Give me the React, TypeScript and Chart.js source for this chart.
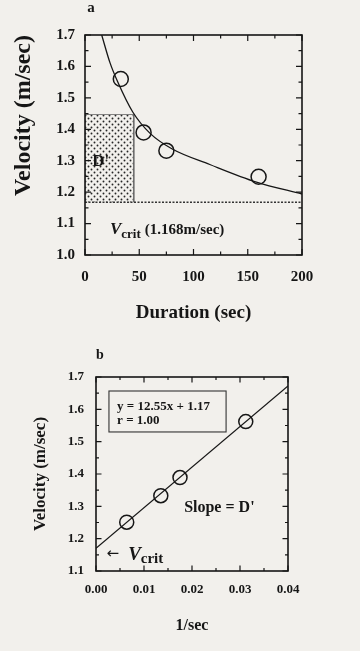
import { useEffect, useRef } from 'react';
import { Chart, registerables } from 'chart.js';

Chart.register(...registerables);

// ---------- Panel a : velocity vs duration ----------
const durationSec = [33, 54, 75, 160];
const velocityA = [1.56, 1.39, 1.332, 1.249];
const fitCurveDuration = [15.4, 23, 30, 44, 60, 80, 115, 158, 200];
const fitCurveVelocity = [1.7, 1.612, 1.552, 1.455, 1.387, 1.338, 1.288, 1.232, 1.194];
const criticalLineSec = [0, 200];
const criticalLineVel = [1.168, 1.168];
const dPrimeRectSec = [0, 0, 45, 45];
const dPrimeRectVel = [1.168, 1.447, 1.447, 1.168];
const durationTicks = [0, 50, 100, 150, 200];
const velocityTicksA = [1.0, 1.1, 1.2, 1.3, 1.4, 1.5, 1.6, 1.7];

// ---------- Panel b : velocity vs 1/duration ----------
const inverseDuration = [0.0064, 0.0135, 0.0175, 0.0312];
const velocityB = [1.251, 1.333, 1.389, 1.562];
const regressionLineX = [0, 0.04];
const regressionLineY = [1.17, 1.672];
const inverseTicks = [0, 0.01, 0.02, 0.03, 0.04];
const velocityTicksB = [1.1, 1.2, 1.3, 1.4, 1.5, 1.6, 1.7];

const SERIF = '"Liberation Serif", "Times New Roman", serif';
const INK = '#161616';
const PAPER = '#f2f0ec';

const pts = (xs: number[], ys: number[]) => xs.map((x, i) => ({ x, y: ys[i] }));

const frameTicksPlugin = {
  id: 'frameTicks',
  afterDatasetsDraw(chart: any, _args: any, opts: any) {
    const { ctx, chartArea } = chart;
    const { left, right, top, bottom } = chartArea;
    ctx.save();
    ctx.strokeStyle = INK;
    ctx.lineWidth = 1.2;
    const drawSet = (scale: any, ticks: number[], horizontal: boolean) => {
      const major = ticks[1] - ticks[0];
      const minor = major / 2;
      const n = Math.round((scale.max - scale.min) / minor);
      for (let i = 0; i <= n; i++) {
        const v = scale.min + i * minor;
        const q = (v - ticks[0]) / major;
        const isMajor = Math.abs(q - Math.round(q)) < 1e-6;
        const len = isMajor ? opts.majorLen : opts.minorLen;
        const p = scale.getPixelForValue(v);
        ctx.beginPath();
        if (horizontal) {
          ctx.moveTo(p, bottom);
          ctx.lineTo(p, bottom - len);
          ctx.moveTo(p, top);
          ctx.lineTo(p, top + len);
        } else {
          ctx.moveTo(left, p);
          ctx.lineTo(left + len, p);
          ctx.moveTo(right, p);
          ctx.lineTo(right - len, p);
        }
        ctx.stroke();
      }
    };
    drawSet(chart.scales.x, opts.xTicks, true);
    drawSet(chart.scales.y, opts.yTicks, false);
    ctx.lineWidth = opts.frameWidth;
    ctx.strokeRect(left, top, right - left, bottom - top);
    ctx.restore();
  },
};

const textMarksPlugin = {
  id: 'textMarks',
  afterDraw(chart: any, _args: any, opts: any) {
    const { ctx, chartArea } = chart;
    const xs = chart.scales.x;
    const ys = chart.scales.y;
    ctx.save();
    ctx.fillStyle = INK;
    ctx.strokeStyle = '#333';
    if (opts.panel) {
      ctx.font = `bold ${opts.panel.size}px ${SERIF}`;
      ctx.textAlign = 'center';
      ctx.textBaseline = 'middle';
      ctx.fillText(opts.panel.text, chartArea.left + opts.panel.dx, opts.panel.y);
    }
    for (const b of opts.boxes || []) {
      const x0 = xs.getPixelForValue(b.x0);
      const x1 = xs.getPixelForValue(b.x1);
      const y0 = ys.getPixelForValue(b.y0);
      const y1 = ys.getPixelForValue(b.y1);
      ctx.lineWidth = 1.1;
      ctx.strokeRect(x0, y0, x1 - x0, y1 - y0);
    }
    for (const item of opts.items || []) {
      const px = xs.getPixelForValue(item.x);
      const py = ys.getPixelForValue(item.y);
      ctx.textBaseline = item.baseline || 'alphabetic';
      ctx.textAlign = 'left';
      let total = 0;
      for (const r of item.runs) {
        ctx.font = r.font;
        total += (r.gap || 0) + ctx.measureText(r.text).width;
      }
      let cx = item.align === 'center' ? px - total / 2 : px;
      for (const r of item.runs) {
        cx += r.gap || 0;
        ctx.font = r.font;
        ctx.fillText(r.text, cx, py + (r.dy || 0));
        cx += ctx.measureText(r.text).width;
      }
    }
    ctx.restore();
  },
};

function makeDotPattern(): CanvasPattern | string {
  const tile = document.createElement('canvas');
  tile.width = 6;
  tile.height = 6;
  const t = tile.getContext('2d');
  if (!t) return '#999';
  t.fillStyle = '#262626';
  t.beginPath();
  t.arc(1.5, 1.5, 0.95, 0, Math.PI * 2);
  t.arc(4.5, 4.5, 0.95, 0, Math.PI * 2);
  t.fill();
  const p = t.createPattern(tile, 'repeat');
  return p || '#999';
}

const tickFont = (size: number) => ({ family: SERIF, size, weight: 'bold' as const });

function configA(pattern: CanvasPattern | string): any {
  return {
    type: 'line',
    data: {
      datasets: [
        {
          label: 'points',
          data: pts(durationSec, velocityA),
          showLine: false,
          pointRadius: 7.5,
          pointBorderWidth: 1.5,
          pointBorderColor: INK,
          pointBackgroundColor: 'rgba(0,0,0,0)',
        },
        {
          label: 'fit',
          data: pts(fitCurveDuration, fitCurveVelocity),
          borderColor: INK,
          borderWidth: 1.3,
          pointRadius: 0,
          cubicInterpolationMode: 'monotone',
          fill: false,
        },
        {
          label: 'vcrit',
          data: pts(criticalLineSec, criticalLineVel),
          borderColor: '#333',
          borderWidth: 1.5,
          borderDash: [2, 1.5],
          pointRadius: 0,
          fill: false,
        },
        {
          label: 'dprime',
          data: pts(dPrimeRectSec, dPrimeRectVel),
          borderColor: '#666',
          borderWidth: 0.8,
          pointRadius: 0,
          backgroundColor: pattern,
          fill: { value: 1.168 },
        },
      ],
    },
    options: {
      responsive: false,
      maintainAspectRatio: false,
      animation: false,
      events: [],
      layout: { padding: { left: 0, right: 58, top: 35, bottom: 0 } },
      plugins: {
        legend: { display: false },
        tooltip: { enabled: false },
        frameTicks: { xTicks: durationTicks, yTicks: velocityTicksA, majorLen: 6, minorLen: 3.5, frameWidth: 1.6 },
        textMarks: {
          panel: { text: 'a', dx: 6, y: 8, size: 15 },
          items: [
            { x: 14.5, y: 1.296, align: 'center', baseline: 'middle', runs: [{ text: "D'", font: `bold 17px ${SERIF}` }] },
            {
              x: 23,
              y: 1.067,
              align: 'left',
              runs: [
                { text: 'V', font: `italic bold 17px ${SERIF}` },
                { text: 'crit', font: `bold 13px ${SERIF}`, dy: 4 },
                { text: '(1.168m/sec)', font: `bold 15px ${SERIF}`, gap: 4 },
              ],
            },
          ],
        },
      },
      scales: {
        x: {
          type: 'linear',
          min: durationTicks[0],
          max: durationTicks[durationTicks.length - 1],
          afterBuildTicks: (s: any) => {
            s.ticks = durationTicks.map((value) => ({ value }));
          },
          afterFit: (s: any) => {
            s.height = 75;
          },
          grid: { display: false, drawTicks: false },
          border: { display: false },
          ticks: { padding: 13, font: tickFont(15), color: INK, autoSkip: false, maxRotation: 0 },
          title: {
            display: true,
            text: 'Duration (sec)',
            color: INK,
            font: { family: SERIF, size: 19, weight: 'bold' },
            padding: { top: 0, bottom: 6 },
          },
        },
        y: {
          type: 'linear',
          min: velocityTicksA[0],
          max: velocityTicksA[velocityTicksA.length - 1],
          afterBuildTicks: (s: any) => {
            s.ticks = velocityTicksA.map((value) => ({ value }));
          },
          afterFit: (s: any) => {
            s.width = 85;
          },
          grid: { display: false, drawTicks: false },
          border: { display: false },
          ticks: {
            padding: 10,
            font: tickFont(15),
            color: INK,
            autoSkip: false,
            callback: (v: any) => Number(v).toFixed(1),
          },
          title: {
            display: true,
            text: 'Velocity (m/sec)',
            align: 'end',
            color: INK,
            font: { family: SERIF, size: 24, weight: 'bold' },
            padding: { top: 9, bottom: 0 },
          },
        },
      },
    },
    plugins: [frameTicksPlugin, textMarksPlugin],
  };
}

function configB(): any {
  return {
    type: 'line',
    data: {
      datasets: [
        {
          label: 'points',
          data: pts(inverseDuration, velocityB),
          showLine: false,
          pointRadius: 7,
          pointBorderWidth: 1.5,
          pointBorderColor: INK,
          pointBackgroundColor: 'rgba(0,0,0,0)',
        },
        {
          label: 'regression',
          data: pts(regressionLineX, regressionLineY),
          borderColor: INK,
          borderWidth: 1.2,
          pointRadius: 0,
          fill: false,
        },
      ],
    },
    options: {
      responsive: false,
      maintainAspectRatio: false,
      animation: false,
      events: [],
      layout: { padding: { left: 0, right: 72, top: 47, bottom: 0 } },
      plugins: {
        legend: { display: false },
        tooltip: { enabled: false },
        frameTicks: { xTicks: inverseTicks, yTicks: velocityTicksB, majorLen: 5.5, minorLen: 3, frameWidth: 1.6 },
        textMarks: {
          panel: { text: 'b', dx: 4, y: 25, size: 14 },
          boxes: [{ x0: 0.0027, x1: 0.0271, y0: 1.6567, y1: 1.53 }],
          items: [
            { x: 0.0044, y: 1.607, align: 'left', baseline: 'middle', runs: [{ text: 'y = 12.55x + 1.17', font: `bold 13px ${SERIF}` }] },
            { x: 0.0044, y: 1.564, align: 'left', baseline: 'middle', runs: [{ text: 'r = 1.00', font: `bold 13px ${SERIF}` }] },
            { x: 0.0257, y: 1.295, align: 'center', baseline: 'middle', runs: [{ text: "Slope = D'", font: `bold 16px ${SERIF}` }] },
            {
              x: 0.0022,
              y: 1.134,
              align: 'left',
              runs: [
                { text: '←', font: `15px "DejaVu Sans", sans-serif`, dy: -2 },
                { text: 'V', font: `italic bold 19px ${SERIF}`, gap: 9 },
                { text: 'crit', font: `bold 15px ${SERIF}`, dy: 3 },
              ],
            },
          ],
        },
      },
      scales: {
        x: {
          type: 'linear',
          min: inverseTicks[0],
          max: inverseTicks[inverseTicks.length - 1],
          afterBuildTicks: (s: any) => {
            s.ticks = inverseTicks.map((value) => ({ value }));
          },
          afterFit: (s: any) => {
            s.height = 80;
          },
          grid: { display: false, drawTicks: false },
          border: { display: false },
          ticks: {
            padding: 11,
            font: tickFont(13),
            color: INK,
            autoSkip: false,
            maxRotation: 0,
            callback: (v: any) => Number(v).toFixed(2),
          },
          title: {
            display: true,
            text: '1/sec',
            color: INK,
            font: { family: SERIF, size: 16, weight: 'bold' },
            padding: { top: 0, bottom: 16 },
          },
        },
        y: {
          type: 'linear',
          min: velocityTicksB[0],
          max: velocityTicksB[velocityTicksB.length - 1],
          afterBuildTicks: (s: any) => {
            s.ticks = velocityTicksB.map((value) => ({ value }));
          },
          afterFit: (s: any) => {
            s.width = 96;
          },
          grid: { display: false, drawTicks: false },
          border: { display: false },
          ticks: {
            padding: 12,
            font: tickFont(13),
            color: INK,
            autoSkip: false,
            callback: (v: any) => Number(v).toFixed(1),
          },
          title: {
            display: true,
            text: 'Velocity (m/sec)',
            color: INK,
            font: { family: SERIF, size: 17, weight: 'bold' },
            padding: { top: 30, bottom: 0 },
          },
        },
      },
    },
    plugins: [frameTicksPlugin, textMarksPlugin],
  };
}

export default function App() {
  const refA = useRef<HTMLCanvasElement | null>(null);
  const refB = useRef<HTMLCanvasElement | null>(null);

  useEffect(() => {
    if (!refA.current || !refB.current) return;
    const chartA = new Chart(refA.current, configA(makeDotPattern()));
    const chartB = new Chart(refB.current, configB());
    return () => {
      chartA.destroy();
      chartB.destroy();
    };
  }, []);

  return (
    <div style={{ position: 'absolute', left: 0, top: 0, width: 360, height: 651, background: PAPER, overflow: 'hidden' }}>
      <canvas ref={refA} width={360} height={330} style={{ display: 'block', width: 360, height: 330 }} />
      <canvas ref={refB} width={360} height={321} style={{ display: 'block', width: 360, height: 321 }} />
    </div>
  );
}
